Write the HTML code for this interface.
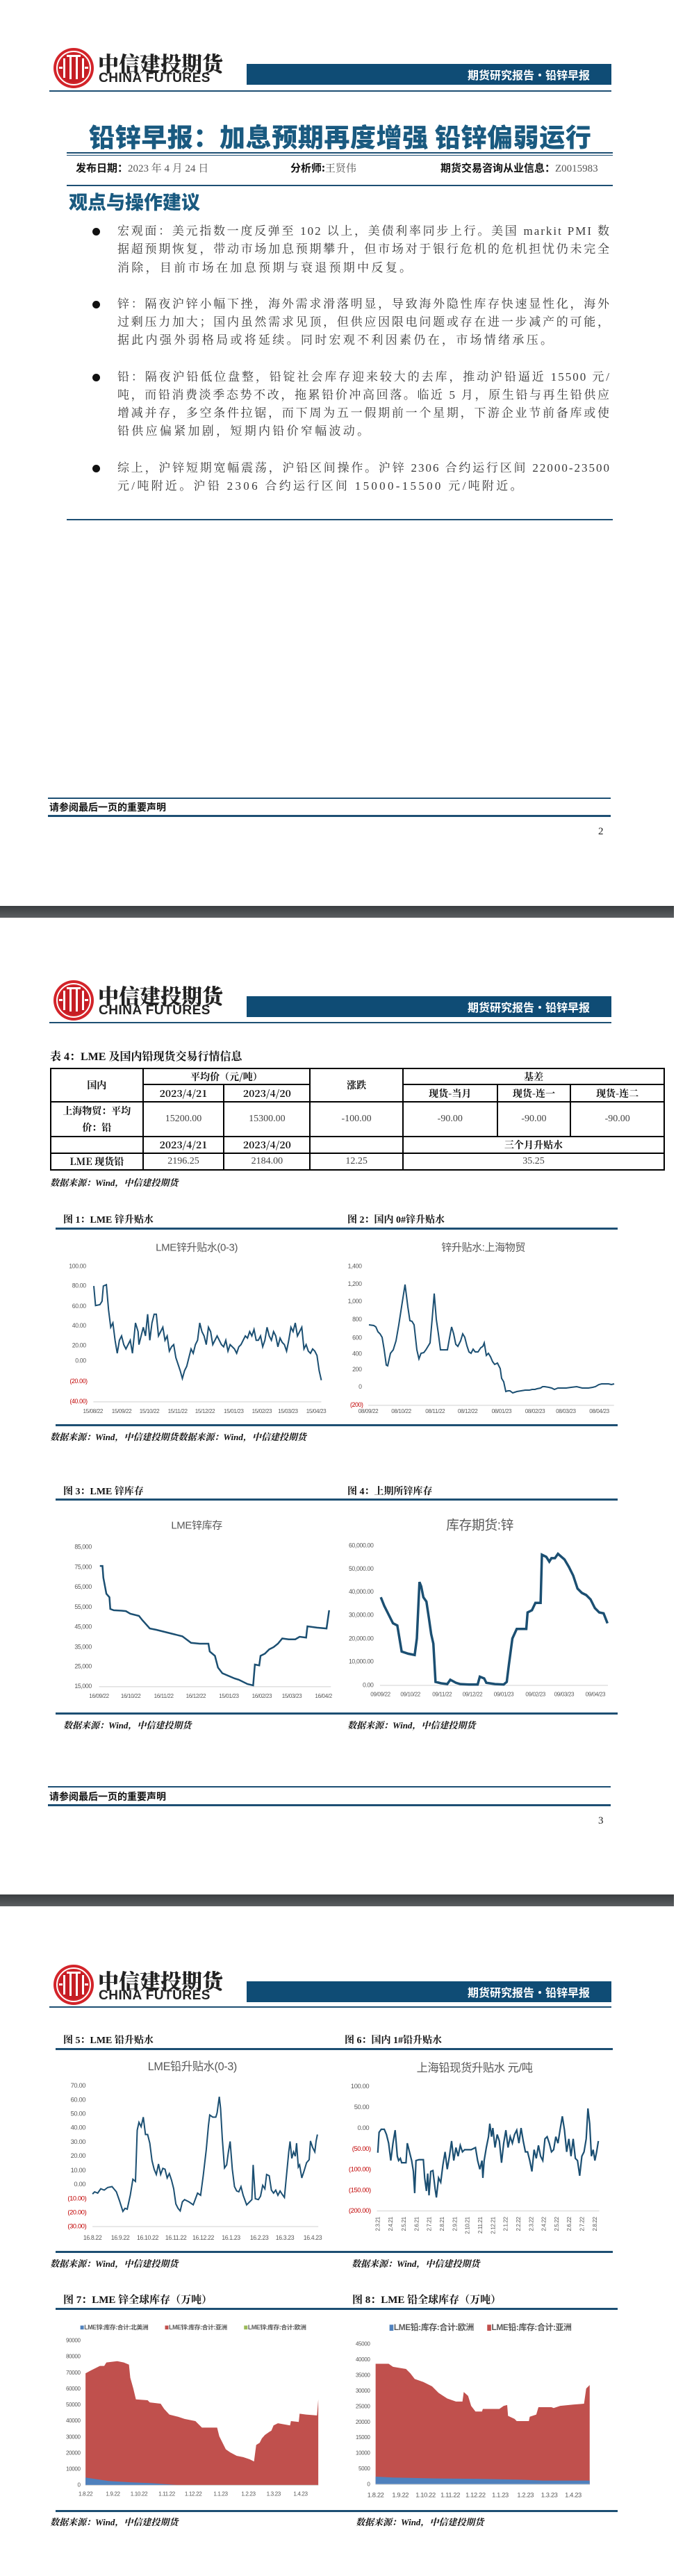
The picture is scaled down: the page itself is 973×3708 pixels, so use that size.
<!DOCTYPE html>
<html><head><meta charset="utf-8">
<style>
*{margin:0;padding:0;box-sizing:border-box}
body{width:973px;height:3708px;background:#fff;position:relative;overflow:hidden;font-family:"Liberation Serif","Noto Serif CJK SC",serif;color:#333}
.a{position:absolute;white-space:nowrap}
.ln{position:absolute;background:#1d4f73}
.hdcn{font-family:"Noto Serif CJK SC",serif;font-weight:900;font-size:30px;color:#222;letter-spacing:0px}
.hden{font-family:"Liberation Sans",sans-serif;font-weight:bold;font-size:19px;color:#222;letter-spacing:0.5px}
.bar{position:absolute;left:355px;width:525px;height:30px;background:#0f4c75;color:#fff;font-family:"Noto Sans CJK SC",sans-serif;font-weight:bold;font-size:16px;text-align:right;padding-right:31px;line-height:30px}
.gray{position:absolute;left:0;width:970px;height:17px;background:linear-gradient(#3a3d40,#5b5e61)}
.p{position:absolute;left:169px;width:710px;font-size:17px;line-height:26px;height:26px;letter-spacing:2px;color:#3a3a3a;white-space:nowrap}
.j{text-align:justify;text-align-last:justify;white-space:normal;overflow:hidden}
.dot{position:absolute;left:133px;width:11px;height:11px;border-radius:50%;background:#111}
.ft{font-family:"Noto Sans CJK SC",sans-serif;font-weight:bold;font-size:14px;color:#111}
.ftit{font-family:"Liberation Serif","Noto Serif CJK SC",serif;font-weight:bold;font-size:14px;color:#111}
.src{font-family:"Liberation Serif","Noto Serif CJK SC",serif;font-weight:bold;font-style:italic;font-size:13px;color:#111}
table{position:absolute;left:72px;top:1537px;width:885px;border-collapse:collapse;font-size:14px}
td{border:2px solid #000;text-align:center;padding:0;color:#444}
td.b{font-family:"Noto Serif CJK SC",serif;font-weight:bold;color:#111}
svg text{letter-spacing:-0.6px}
</style></head><body>

<div class="ln" style="left:71px;top:130px;width:809px;height:2px"></div>
<div class="ln" style="left:71px;top:1471px;width:809px;height:2px"></div>
<div class="ln" style="left:71px;top:2888px;width:809px;height:2px"></div>
<div class="bar" style="top:92px">期货研究报告•铅锌早报</div>
<div class="bar" style="top:1434px">期货研究报告•铅锌早报</div>
<div class="bar" style="top:2852px">期货研究报告•铅锌早报</div>
<div class="a hdcn" style="left:141px;top:68px">中信建投期货</div>
<div class="a hdcn" style="left:141px;top:1410px">中信建投期货</div>
<div class="a hdcn" style="left:141px;top:2828px">中信建投期货</div>
<div class="a hden" style="left:142px;top:102px">CHINA FUTURES</div>
<div class="a hden" style="left:142px;top:1444px">CHINA FUTURES</div>
<div class="a hden" style="left:142px;top:2862px">CHINA FUTURES</div>

<div class="a" style="left:128px;top:168px;font-family:'Noto Sans CJK SC',sans-serif;font-weight:900;font-size:37px;color:#1a5a80;letter-spacing:0.6px">铅锌早报：加息预期再度增强 铅锌偏弱运行</div>
<div class="ln" style="left:96px;top:219px;width:786px;height:2px"></div>
<div class="ln" style="left:96px;top:223px;width:786px;height:1px"></div>
<div class="a" style="left:109px;top:231px;font-size:15px;color:#555"><b style="font-family:'Noto Sans CJK SC',sans-serif;color:#111">发布日期：</b>2023 年 4 月 24 日</div>
<div class="a" style="left:418px;top:231px;font-size:15px;color:#555"><b style="font-family:'Noto Sans CJK SC',sans-serif;color:#111">分析师:</b>王贤伟</div>
<div class="a" style="left:634px;top:231px;font-size:15px;color:#555"><b style="font-family:'Noto Sans CJK SC',sans-serif;color:#111">期货交易咨询从业信息：</b>Z0015983</div>
<div class="ln" style="left:96px;top:266px;width:786px;height:2px"></div>
<div class="a" style="left:99px;top:270px;font-family:'Noto Sans CJK SC',sans-serif;font-weight:900;font-size:27px;color:#1a5a80">观点与操作建议</div>

<div class="dot" style="top:328px"></div>
<div class="p j" style="top:320px">宏观面：美元指数一度反弹至 102 以上，美债利率同步上行。美国 markit PMI 数</div>
<div class="p j" style="top:346px">据超预期恢复，带动市场加息预期攀升，但市场对于银行危机的危机担忧仍未完全</div>
<div class="p" style="top:373px;letter-spacing:3.3px">消除，目前市场在加息预期与衰退预期中反复。</div>

<div class="dot" style="top:433px"></div>
<div class="p j" style="top:425px">锌：隔夜沪锌小幅下挫，海外需求滑落明显，导致海外隐性库存快速显性化，海外</div>
<div class="p j" style="top:451px">过剩压力加大；国内虽然需求见顶，但供应因限电问题或存在进一步减产的可能，</div>
<div class="p" style="top:477px;letter-spacing:3.3px">据此内强外弱格局或将延续。同时宏观不利因素仍在，市场情绪承压。</div>

<div class="dot" style="top:538px"></div>
<div class="p j" style="top:530px">铅：隔夜沪铅低位盘整，铅锭社会库存迎来较大的去库，推动沪铅逼近 15500 元/</div>
<div class="p j" style="top:556px">吨，而铅消费淡季态势不改，拖累铅价冲高回落。临近 5 月，原生铅与再生铅供应</div>
<div class="p j" style="top:582px">增减并存，多空条件拉锯，而下周为五一假期前一个星期，下游企业节前备库或使</div>
<div class="p" style="top:608px;letter-spacing:3.3px">铅供应偏紧加剧，短期内铅价窄幅波动。</div>

<div class="dot" style="top:669px"></div>
<div class="p j" style="top:661px">综上，沪锌短期宽幅震荡，沪铅区间操作。沪锌 2306 合约运行区间 22000-23500</div>
<div class="p" style="top:687px;letter-spacing:3.3px">元/吨附近。沪铅 2306 合约运行区间 15000-15500 元/吨附近。</div>
<div class="ln" style="left:96px;top:747px;width:786px;height:2px"></div>

<div class="ln" style="left:69px;top:1148px;width:810px;height:2px"></div>
<div class="a ft" style="left:71px;top:1152px">请参阅最后一页的重要声明</div>
<div class="ln" style="left:69px;top:1173px;width:810px;height:3px"></div>
<div class="a" style="left:861px;top:1189px;font-size:15px;color:#222">2</div>
<div class="gray" style="top:1304px"></div>

<div class="a ftit" style="left:72px;top:1508px;font-size:16px">表 4：LME 及国内铅现货交易行情信息</div>
<table>
<colgroup><col style="width:133px"><col style="width:117px"><col style="width:124px"><col style="width:134px"><col style="width:136px"><col style="width:106px"><col style="width:135px"></colgroup>
<tr style="height:23px"><td class="b" rowspan="2">国内</td><td class="b" colspan="2">平均价（元/吨）</td><td class="b" rowspan="2">涨跌</td><td class="b" colspan="3">基差</td></tr>
<tr style="height:25px"><td class="b">2023/4/21</td><td class="b">2023/4/20</td><td class="b">现货-当月</td><td class="b">现货-连一</td><td class="b">现货-连二</td></tr>
<tr style="height:49px"><td class="b" style="line-height:24px">上海物贸：平均<br>价：铅</td><td>15200.00</td><td>15300.00</td><td>-100.00</td><td>-90.00</td><td>-90.00</td><td>-90.00</td></tr>
<tr style="height:24px"><td></td><td class="b">2023/4/21</td><td class="b">2023/4/20</td><td></td><td class="b" colspan="3">三个月升贴水</td></tr>
<tr style="height:24px"><td class="b">LME 现货铅</td><td>2196.25</td><td>2184.00</td><td>12.25</td><td colspan="3">35.25</td></tr>
</table>
<div class="a src" style="left:72px;top:1692px">数据来源：Wind，中信建投期货</div>

<div class="a ftit" style="left:91px;top:1745px">图 1：LME 锌升贴水</div>
<div class="a ftit" style="left:500px;top:1745px">图 2：国内 0#锌升贴水</div>
<div class="ln" style="left:80px;top:1767px;width:809px;height:3px"></div>
<div class="ln" style="left:80px;top:2050px;width:809px;height:3px"></div>
<div class="a src" style="left:72px;top:2058px">数据来源：Wind，中信建投期货数据来源：Wind，中信建投期货</div>

<div class="a ftit" style="left:91px;top:2136px">图 3：LME 锌库存</div>
<div class="a ftit" style="left:500px;top:2136px">图 4：上期所锌库存</div>
<div class="ln" style="left:80px;top:2157px;width:809px;height:3px"></div>
<div class="ln" style="left:80px;top:2465px;width:809px;height:3px"></div>
<div class="a src" style="left:91px;top:2473px">数据来源：Wind，中信建投期货</div>
<div class="a src" style="left:500px;top:2473px">数据来源：Wind，中信建投期货</div>

<div class="ln" style="left:69px;top:2571px;width:810px;height:2px"></div>
<div class="a ft" style="left:71px;top:2576px">请参阅最后一页的重要声明</div>
<div class="ln" style="left:69px;top:2597px;width:810px;height:3px"></div>
<div class="a" style="left:861px;top:2613px;font-size:15px;color:#222">3</div>
<div class="gray" style="top:2727px"></div>

<div class="a ftit" style="left:91px;top:2926px">图 5：LME 铅升贴水</div>
<div class="a ftit" style="left:496px;top:2926px">图 6：国内 1#铅升贴水</div>
<div class="ln" style="left:80px;top:2948px;width:802px;height:3px"></div>
<div class="ln" style="left:80px;top:3240px;width:802px;height:3px"></div>
<div class="a src" style="left:72px;top:3248px">数据来源：Wind，中信建投期货</div>
<div class="a src" style="left:506px;top:3248px">数据来源：Wind，中信建投期货</div>
<div class="a ftit" style="left:91px;top:3299px;font-size:15px">图 7：LME 锌全球库存（万吨）</div>
<div class="a ftit" style="left:507px;top:3299px;font-size:15px">图 8：LME 铅全球库存（万吨）</div>
<div class="ln" style="left:80px;top:3322px;width:809px;height:3px"></div>
<div class="ln" style="left:80px;top:3613px;width:809px;height:3px"></div>
<div class="a src" style="left:72px;top:3620px">数据来源：Wind，中信建投期货</div>
<div class="a src" style="left:512px;top:3620px">数据来源：Wind，中信建投期货</div>

<svg width="973" height="3708" style="position:absolute;left:0;top:0" xmlns="http://www.w3.org/2000/svg" font-family="Liberation Sans, Noto Sans CJK SC, sans-serif">
<defs>
<g id="logo">
<circle r="29" fill="#d3242a"/>
<circle r="24" fill="none" stroke="#fff" stroke-width="2"/>
<circle r="21" fill="#c51d24"/>
<rect x="-15" y="-14" width="3" height="28" fill="#fff"/>
<rect x="12" y="-14" width="3" height="28" fill="#fff"/>
<rect x="-6" y="-18" width="3" height="34" fill="#fff"/>
<rect x="3" y="-18" width="3" height="34" fill="#fff"/>
<rect x="-10" y="-19" width="20" height="3" fill="#fff"/>
<rect x="-21" y="-2" width="5" height="3" fill="#fff"/>
<rect x="16" y="-2" width="5" height="3" fill="#fff"/>
</g>
</defs>
<use href="#logo" x="106" y="98"/>
<use href="#logo" x="106" y="1440"/>
<use href="#logo" x="106" y="2857"/>

<g transform="translate(0,973) scale(0.625)" fill="#595959" font-size="14">
<text x="453" y="1318" font-size="24" text-anchor="middle" dominant-baseline="middle" fill="#595959">LME锌升贴水(0-3)</text>
<text x="1113" y="1318" font-size="24" text-anchor="middle" dominant-baseline="middle" fill="#595959">锌升贴水:上海物贸</text>
<g text-anchor="end" dominant-baseline="middle">
<text x="198" y="1360">100.00</text><text x="198" y="1405">80.00</text><text x="198" y="1452">60.00</text><text x="198" y="1497">40.00</text><text x="198" y="1543">20.00</text>
<text x="833" y="1360">1,400</text><text x="833" y="1401">1,200</text><text x="833" y="1441">1,000</text><text x="833" y="1483">800</text><text x="833" y="1525">600</text><text x="833" y="1562">400</text>
</g>
<polyline vector-effect="non-scaling-stroke" fill="none" stroke="#1b4f72" stroke-width="2" points="216,1405 220,1450 230,1448 235,1440 238,1405 245,1402 250,1460 255,1500 260,1490 265,1530 270,1560 275,1530 280,1520 285,1540 290,1550 300,1530 305,1560 312,1490 318,1510 320,1540 330,1500 335,1520 340,1470 345,1530 350,1490 355,1470 360,1470 365,1520 370,1510 375,1500 380,1530 385,1520 390,1555 395,1545 400,1540 405,1570 410,1585 415,1600 420,1618 425,1600 430,1590 435,1570 440,1550 445,1560 450,1540 455,1530 460,1490 465,1510 470,1520 475,1540 480,1500 485,1510 490,1540 495,1530 500,1520 505,1530 510,1540 515,1545 520,1530 525,1555 530,1540 535,1545 540,1550 545,1560 550,1545 555,1540 560,1530 565,1520 570,1525 575,1510 580,1520 585,1505 590,1530 595,1530 600,1520 605,1545 610,1530 615,1500 620,1520 625,1530 630,1510 635,1520 640,1545 645,1525 650,1535 655,1540 660,1555 665,1530 670,1500 675,1510 680,1490 685,1520 690,1510 695,1500 700,1550 705,1540 710,1555 715,1560 720,1550 725,1555 730,1565 735,1600 740,1622"/>
</g>
<g transform="translate(0,1946) scale(0.625)" fill="#595959" font-size="14">
<g text-anchor="end" dominant-baseline="middle">
<text x="198" y="21">0.00</text><text x="201" y="68" fill="#c00000">(20.00)</text><text x="201" y="115" fill="#c00000">(40.00)</text>
<text x="833" y="41">200</text><text x="833" y="81">0</text><text x="836" y="123" fill="#c00000">(200)</text>
</g>
<line x1="215" y1="115" x2="740" y2="115" stroke="#d9d9d9" stroke-width="2"/>
<line x1="848" y1="123" x2="1414" y2="123" stroke="#d9d9d9" stroke-width="2"/>
<g text-anchor="middle" font-size="13">
<text x="214" y="141">15/08/22</text><text x="280" y="141">15/09/22</text><text x="344" y="141">15/10/22</text><text x="409" y="141">15/11/22</text><text x="472" y="141">15/12/22</text><text x="538" y="141">15/01/23</text><text x="603" y="141">15/02/23</text><text x="663" y="141">15/03/23</text><text x="728" y="141">15/04/23</text>
<text x="848" y="141">08/09/22</text><text x="924" y="141">08/10/22</text><text x="1002" y="141">08/11/22</text><text x="1077" y="141">08/12/22</text><text x="1155" y="141">08/01/23</text><text x="1232" y="141">08/02/23</text><text x="1303" y="141">08/03/23</text><text x="1380" y="141">08/04/23</text>
</g>
</g>
<polyline fill="none" stroke="#1b4f72" stroke-width="2" points="531,1907 538,1908 541,1910 544,1917 547,1920 550,1925 553,1943 556,1965 558,1966 562,1948 566,1943 570,1930 574,1907 578,1881 583,1849 587,1881 590,1901 593,1902 596,1907 600,1943 603,1956 606,1948 610,1947 613,1943 616,1938 619,1933 622,1899 625,1862 628,1899 631,1920 634,1943 644,1943 647,1926 650,1910 653,1920 656,1935 659,1938 663,1930 666,1920 669,1925 672,1937 675,1946 678,1948 681,1942 684,1946 688,1946 692,1940 695,1938 697,1933 700,1951 703,1948 706,1953 709,1960 712,1964 716,1962 720,1970 722,1984 725,1989 728,2003 731,2002 734,2002 738,2005 744,2003 750,2002 756,2001 762,2001 766,2000 770,2000 773,1999 778,1998 781,1996 784,1996 790,1997 794,1998 798,2000 803,1998 810,1998 815,1998 822,1997 830,1996 838,1998 847,1998 853,1997 857,1996 862,1993 866,1992 872,1992 876,1992 880,1993 884,1992"/>

<g transform="translate(0,1946) scale(0.625)" fill="#595959" font-size="14">
<text x="453" y="401" font-size="24" text-anchor="middle" dominant-baseline="middle">LME锌库存</text>
<text x="1105" y="401" font-size="30" text-anchor="middle" dominant-baseline="middle">库存期货:锌</text>
<g text-anchor="end" dominant-baseline="middle">
<text x="211" y="450">85,000</text><text x="211" y="496">75,000</text><text x="211" y="542">65,000</text><text x="211" y="588">55,000</text><text x="211" y="634">45,000</text><text x="211" y="680">35,000</text><text x="211" y="725">25,000</text><text x="211" y="771">15,000</text>
<text x="860" y="447">60,000.00</text><text x="860" y="500">50,000.00</text><text x="860" y="553">40,000.00</text><text x="860" y="607">30,000.00</text><text x="860" y="661">20,000.00</text><text x="860" y="714">10,000.00</text><text x="860" y="768">0.00</text>
</g>
<line x1="228" y1="771" x2="762" y2="771" stroke="#d9d9d9" stroke-width="2"/>
<line x1="875" y1="768" x2="1400" y2="768" stroke="#d9d9d9" stroke-width="2"/>
<g text-anchor="middle" font-size="13">
<text x="228" y="797">16/09/22</text><text x="301" y="797">16/10/22</text><text x="377" y="797">16/11/22</text><text x="451" y="797">16/12/22</text><text x="527" y="797">15/01/23</text><text x="603" y="797">16/02/23</text><text x="672" y="797">15/03/23</text><text x="745" y="797">16/04/2</text>
<text x="876" y="793">09/09/22</text><text x="945" y="793">09/10/22</text><text x="1018" y="793">09/11/22</text><text x="1088" y="793">09/12/22</text><text x="1160" y="793">09/01/23</text><text x="1233" y="793">09/02/23</text><text x="1299" y="793">09/03/23</text><text x="1371" y="793">09/04/23</text>
</g>
<polyline vector-effect="non-scaling-stroke" fill="none" stroke="#1b4f72" stroke-width="2.5" points="230,493 236,493 238,520 245,557 252,565 254,592 262,595 280,596 290,597 300,603 320,608 328,618 345,637 360,640 380,645 400,650 420,655 440,670 460,672 480,672 483,690 495,700 502,727 512,740 540,752 550,755 570,765 583,768 587,720 597,722 600,700 610,695 620,685 630,680 640,672 650,660 665,662 680,662 690,656 705,658 708,632 730,635 752,637 758,595"/>
<polyline vector-effect="non-scaling-stroke" fill="none" stroke="#1b4f72" stroke-width="3.5" points="877,565 885,585 895,605 905,625 915,630 920,660 925,690 940,695 955,698 960,660 966,530 970,540 975,565 982,575 988,615 993,650 998,672 1003,760 1015,763 1030,765 1037,755 1050,762 1060,765 1080,766 1100,766 1105,748 1115,752 1120,762 1140,765 1160,766 1167,760 1172,720 1180,660 1190,638 1212,638 1215,600 1225,595 1233,578 1245,578 1248,467 1258,472 1265,483 1270,475 1278,475 1285,465 1300,478 1310,495 1320,515 1330,545 1340,555 1350,560 1360,570 1370,590 1380,600 1390,602 1399,625"/>
</g>

<g transform="translate(0,2735) scale(0.625)" fill="#595959" font-size="15">
<text x="443" y="385" font-size="26" text-anchor="middle" dominant-baseline="middle">LME铅升贴水(0-3)</text>
<text x="1093" y="388" font-size="26" text-anchor="middle" dominant-baseline="middle">上海铅现货升贴水 元/吨</text>
<g text-anchor="end" dominant-baseline="middle">
<text x="197" y="428">70.00</text><text x="197" y="461">60.00</text><text x="197" y="493">50.00</text><text x="197" y="525">40.00</text><text x="197" y="558">30.00</text><text x="197" y="590">20.00</text><text x="197" y="623">10.00</text><text x="197" y="655">0.00</text>
<g fill="#c00000"><text x="199" y="688">(10.00)</text><text x="199" y="720">(20.00)</text><text x="199" y="752">(30.00)</text></g>
<text x="850" y="430">100.00</text><text x="850" y="478">50.00</text><text x="850" y="526">0.00</text>
<g fill="#c00000"><text x="854" y="574">(50.00)</text><text x="854" y="621">(100.00)</text><text x="854" y="669">(150.00)</text><text x="854" y="716">(200.00)</text></g>
</g>
<line x1="213" y1="752" x2="733" y2="752" stroke="#d9d9d9" stroke-width="2"/>
<line x1="868" y1="716" x2="1380" y2="716" stroke="#d9d9d9" stroke-width="2"/>
<g text-anchor="middle" font-size="14">
<text x="213" y="782">16.8.22</text><text x="277" y="782">16.9.22</text><text x="340" y="782">16.10.22</text><text x="405" y="782">16.11.22</text><text x="468" y="782">16.12.22</text><text x="532" y="782">16.1.23</text><text x="597" y="782">16.2.23</text><text x="656" y="782">16.3.23</text><text x="720" y="782">16.4.23</text>
</g>
<g font-size="13" text-anchor="end">
<text transform="translate(874,730) rotate(-90)">2.3.21</text><text transform="translate(904,730) rotate(-90)">2.4.21</text><text transform="translate(934,730) rotate(-90)">2.5.21</text><text transform="translate(964,730) rotate(-90)">2.6.21</text><text transform="translate(993,730) rotate(-90)">2.7.21</text><text transform="translate(1022,730) rotate(-90)">2.8.21</text><text transform="translate(1052,730) rotate(-90)">2.9.21</text><text transform="translate(1081,730) rotate(-90)">2.10.21</text><text transform="translate(1110,730) rotate(-90)">2.11.21</text><text transform="translate(1140,730) rotate(-90)">2.12.21</text><text transform="translate(1169,730) rotate(-90)">2.1.22</text><text transform="translate(1198,730) rotate(-90)">2.2.22</text><text transform="translate(1228,730) rotate(-90)">2.3.22</text><text transform="translate(1257,730) rotate(-90)">2.4.22</text><text transform="translate(1286,730) rotate(-90)">2.5.22</text><text transform="translate(1315,730) rotate(-90)">2.6.22</text><text transform="translate(1345,730) rotate(-90)">2.7.22</text><text transform="translate(1374,730) rotate(-90)">2.8.22</text>
</g>
<polyline vector-effect="non-scaling-stroke" fill="none" stroke="#1b4f72" stroke-width="2" points="213,677 218,672 225,675 232,665 240,668 248,662 258,660 268,672 275,692 283,717 288,710 293,712 300,680 306,643 312,648 316,530 320,512 325,522 330,500 335,540 340,540 345,560 350,600 355,620 360,632 365,608 370,632 375,618 380,620 385,640 390,630 395,645 400,665 405,700 410,710 415,716 420,695 425,690 435,695 445,702 455,675 462,680 468,635 475,575 480,520 483,495 490,500 497,500 500,490 505,453 508,480 512,550 517,617 522,610 526,580 530,556 535,620 540,660 545,670 550,672 555,660 560,680 568,702 575,695 580,690 583,610 588,688 595,690 600,682 605,657 610,665 614,632 620,635 625,668 630,675 635,668 640,680 645,670 650,678 655,685 660,632 665,580 668,556 672,595 676,580 680,590 683,560 687,615 690,610 695,640 700,625 706,605 712,598 715,555 720,570 725,580 728,555 731,540"/>
<polyline vector-effect="non-scaling-stroke" fill="none" stroke="#1b4f72" stroke-width="2.2" points="870,582 873,535 878,528 885,528 890,540 895,560 900,600 905,560 910,530 915,590 918,600 922,595 925,605 935,605 938,560 943,580 948,600 952,625 955,675 958,600 965,598 975,598 978,640 982,670 985,630 988,680 992,625 997,623 1002,665 1005,685 1010,640 1015,650 1020,610 1025,580 1030,620 1035,590 1040,555 1045,600 1050,570 1055,590 1060,565 1065,580 1070,575 1075,575 1085,575 1095,570 1100,600 1105,620 1110,600 1112,640 1115,600 1120,570 1125,545 1128,515 1132,545 1135,525 1140,570 1145,540 1150,555 1155,605 1160,560 1165,530 1170,570 1175,545 1180,560 1185,540 1190,530 1195,560 1200,525 1205,555 1210,580 1215,580 1220,600 1225,625 1230,575 1235,595 1240,565 1245,590 1250,600 1255,550 1260,545 1265,560 1270,580 1275,575 1280,545 1285,560 1290,528 1295,498 1300,530 1305,580 1310,550 1315,590 1320,550 1325,595 1330,600 1335,635 1340,590 1345,580 1350,550 1354,480 1358,515 1362,590 1366,575 1370,600 1374,580 1378,555"/>

<g font-size="14" font-weight="bold" dominant-baseline="middle">
<rect x="185" y="980" width="8" height="9" fill="#4f81bd"/><text x="194" y="985">LME锌:库存:合计:北美洲</text>
<rect x="380" y="980" width="8" height="9" fill="#c0504d"/><text x="389" y="985">LME锌:库存:合计:亚洲</text>
<rect x="562" y="980" width="8" height="9" fill="#9bbb59"/><text x="571" y="985">LME锌:库存:合计:欧洲</text>
<rect x="897" y="978" width="9" height="14" fill="#4f81bd"/><text x="907" y="985" font-size="19">LME铅:库存:合计:欧洲</text>
<rect x="1122" y="978" width="9" height="14" fill="#c0504d"/><text x="1132" y="985" font-size="19">LME铅:库存:合计:亚洲</text>
</g>
<g text-anchor="end" dominant-baseline="middle" font-size="13">
<text x="185" y="1015">90000</text><text x="185" y="1052">80000</text><text x="185" y="1089">70000</text><text x="185" y="1126">60000</text><text x="185" y="1163">50000</text><text x="185" y="1200">40000</text><text x="185" y="1237">30000</text><text x="185" y="1274">20000</text><text x="185" y="1311">10000</text><text x="185" y="1348">0</text>
<text x="852" y="1023">45000</text><text x="852" y="1059">40000</text><text x="852" y="1095">35000</text><text x="852" y="1131">30000</text><text x="852" y="1167">25000</text><text x="852" y="1203">20000</text><text x="852" y="1238">15000</text><text x="852" y="1274">10000</text><text x="852" y="1310">5000</text><text x="852" y="1346">0</text>
</g>
<polygon fill="#c0504d" points="197,1090 210,1083 230,1073 240,1073 245,1065 270,1062 285,1065 297,1070 300,1100 307,1125 313,1150 340,1152 345,1157 370,1160 378,1172 390,1185 410,1190 425,1195 450,1200 460,1210 465,1215 500,1215 505,1235 515,1255 520,1265 530,1272 545,1280 560,1283 575,1288 585,1293 590,1255 598,1250 603,1240 610,1232 620,1225 625,1222 630,1210 640,1205 668,1210 670,1200 688,1202 690,1183 705,1185 730,1187 733,1150 733,1348 197,1348"/>
<polygon fill="#4f81bd" points="197,1330 250,1338 300,1341 350,1343 420,1348 197,1348"/>
<line x1="197" y1="1348" x2="733" y2="1348" stroke="#d9d9d9" stroke-width="2"/>
<g text-anchor="middle" font-size="13">
<text x="197" y="1372">1.8.22</text><text x="260" y="1372">1.9.22</text><text x="320" y="1372">1.10.22</text><text x="384" y="1372">1.11.22</text><text x="445" y="1372">1.12.22</text><text x="508" y="1372">1.1.23</text><text x="572" y="1372">1.2.23</text><text x="630" y="1372">1.3.23</text><text x="692" y="1372">1.4.23</text>
</g>
<polygon fill="#c0504d" points="865,1068 895,1068 905,1075 935,1080 945,1090 955,1103 975,1110 995,1120 1010,1135 1030,1148 1050,1155 1065,1155 1068,1133 1078,1142 1085,1165 1095,1178 1110,1178 1112,1172 1150,1172 1160,1165 1168,1163 1170,1188 1185,1195 1190,1200 1218,1200 1220,1190 1235,1185 1240,1168 1270,1168 1275,1170 1290,1165 1320,1162 1345,1160 1350,1125 1358,1117 1358,1346 865,1346"/>
<polygon fill="#4f81bd" points="865,1328 905,1330 1000,1332 1100,1333 1200,1335 1250,1337 1358,1337 1358,1346 865,1346"/>
<line x1="865" y1="1346" x2="1358" y2="1346" stroke="#d9d9d9" stroke-width="2"/>
<g text-anchor="middle" font-size="15">
<text x="865" y="1375">1.8.22</text><text x="922" y="1375">1.9.22</text><text x="980" y="1375">1.10.22</text><text x="1037" y="1375">1.11.22</text><text x="1095" y="1375">1.12.22</text><text x="1152" y="1375">1.1.23</text><text x="1210" y="1375">1.2.23</text><text x="1265" y="1375">1.3.23</text><text x="1320" y="1375">1.4.23</text>
</g>
</g>
</svg>
</body></html>
